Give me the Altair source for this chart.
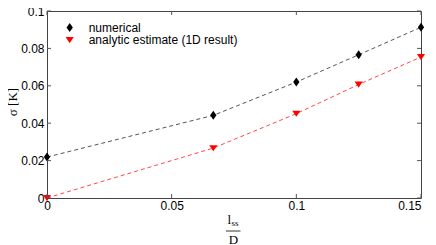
import altair as alt
import pandas as pd

# data
x_vals = [0.0, 0.0667, 0.1, 0.125, 0.15]
numerical = [0.0219, 0.0442, 0.0620, 0.0766, 0.0913]
analytic = [0.0, 0.0267, 0.0451, 0.0607, 0.0754]
series_names = ["numerical", "analytic estimate (1D result)"]
series_colors = ["#000000", "#ff0000"]
x_ticks = [0, 0.05, 0.1, 0.15]
y_ticks = [0, 0.02, 0.04, 0.06, 0.08, 0.1]

W, H = 374, 187

rows = []
for xv, v in zip(x_vals, numerical):
    rows.append({"x": xv, "y": v, "s": series_names[0]})
for xv, v in zip(x_vals, analytic):
    rows.append({"x": xv, "y": v, "s": series_names[1]})
df = pd.DataFrame(rows)

diamond = "M0,-1L0.7,0L0,1L-0.7,0Z"
tri_down = "M-0.9,-0.65L0.9,-0.65L0,0.7Z"

xs = alt.Scale(domain=[0, 0.15], nice=False, zero=False)
ys = alt.Scale(domain=[0, 0.1], nice=False, zero=False)
cs = alt.Scale(domain=series_names, range=series_colors)
ss = alt.Scale(domain=series_names, range=[diamond, tri_down])

xaxis = alt.Axis(values=x_ticks, ticks=False, domain=False, grid=False,
                 labelFont="Liberation Sans", labelFontSize=12, labelColor="#000",
                 labelPadding=2.5, labelOverlap=False, labelFlush=False,
                 labelExpr="format(datum.value, '~g')",
                 labelAlign={"condition": {"test": "datum.value >= 0.149", "value": "right"},
                             "value": "center"},
                 title=None)
yaxis = alt.Axis(values=y_ticks, ticks=False, domain=False, grid=False,
                 labelFont="Liberation Sans", labelFontSize=12, labelColor="#000",
                 labelPadding=3, labelOverlap=False, labelFlush=False,
                 labelExpr="format(datum.value, '~g')", title=None)

X = lambda f: alt.X(f, scale=xs, axis=xaxis)
Y = lambda f: alt.Y(f, scale=ys, axis=yaxis)

base = alt.Chart(df)

line_num = base.transform_filter(alt.datum.s == series_names[0]).mark_line(
    strokeDash=[4, 3], strokeWidth=0.9, color=series_colors[0], opacity=0.75
).encode(x=X("x:Q"), y=Y("y:Q"))
line_ana = base.transform_filter(alt.datum.s == series_names[1]).mark_line(
    strokeDash=[4, 3], strokeWidth=0.9, color=series_colors[1], opacity=0.8
).encode(x=X("x:Q"), y=Y("y:Q"))

leg = alt.Legend(title=None, orient="none", legendX=16.7, legendY=10.5, symbolSize=81,
                 labelFont="Liberation Sans", labelFontSize=12, labelColor="#000",
                 labelOffset=13, rowPadding=0.5, padding=0)

points = base.mark_point(filled=True, size=81, opacity=1).encode(
    x=X("x:Q"),
    y=Y("y:Q"),
    color=alt.Color("s:N", scale=cs, legend=leg),
    shape=alt.Shape("s:N", scale=ss, legend=leg),
)

xt = pd.DataFrame({"t": x_ticks})
yt = pd.DataFrame({"t": y_ticks})
tick_col = "#555"
xt_bot = alt.Chart(xt).mark_rule(color=tick_col, strokeWidth=1).encode(
    x=X("t:Q"), y=alt.value(H), y2=alt.value(H - 4))
xt_top = alt.Chart(xt).mark_rule(color=tick_col, strokeWidth=1).encode(
    x=X("t:Q"), y=alt.value(0), y2=alt.value(4))
yt_left = alt.Chart(yt).mark_rule(color=tick_col, strokeWidth=1).encode(
    y=Y("t:Q"), x=alt.value(0), x2=alt.value(4))
yt_right = alt.Chart(yt).mark_rule(color=tick_col, strokeWidth=1).encode(
    y=Y("t:Q"), x=alt.value(W), x2=alt.value(W - 4))

one = pd.DataFrame({"a": [1]})
ytitle = alt.Chart(one).mark_text(
    text="σ [K]", angle=270, font="Liberation Serif", fontSize=13,
    align="center", baseline="middle", color="#000").encode(
    x=alt.value(-34.5), y=alt.value(91))
xt_l = alt.Chart(one).mark_text(
    text="l", font="Liberation Serif", fontSize=13, align="left",
    baseline="alphabetic", color="#000").encode(x=alt.value(180.5), y=alt.value(212.5))
xt_ss = alt.Chart(one).mark_text(
    text="ss", font="Liberation Serif", fontSize=9, align="left",
    baseline="alphabetic", color="#000").encode(x=alt.value(184.5), y=alt.value(214.5))
xt_bar = alt.Chart(one).mark_rule(color="#000", strokeWidth=0.8).encode(
    x=alt.value(179), x2=alt.value(193.5), y=alt.value(220))
xt_d = alt.Chart(one).mark_text(
    text="D", font="Liberation Serif", fontSize=13, align="center",
    baseline="alphabetic", color="#000").encode(x=alt.value(186.5), y=alt.value(233))

chart = alt.layer(
    line_num, line_ana, points, xt_bot, xt_top, yt_left, yt_right,
    ytitle, xt_l, xt_ss, xt_bar, xt_d
).properties(
    width=W, height=H,
    autosize=alt.AutoSizeParams(type="none"),
    padding={"left": 39, "top": 3, "right": 7, "bottom": 47},
).configure_view(stroke="#444", strokeWidth=1)

chart.save("out.html", embed_options={"renderer": "svg", "actions": False})
